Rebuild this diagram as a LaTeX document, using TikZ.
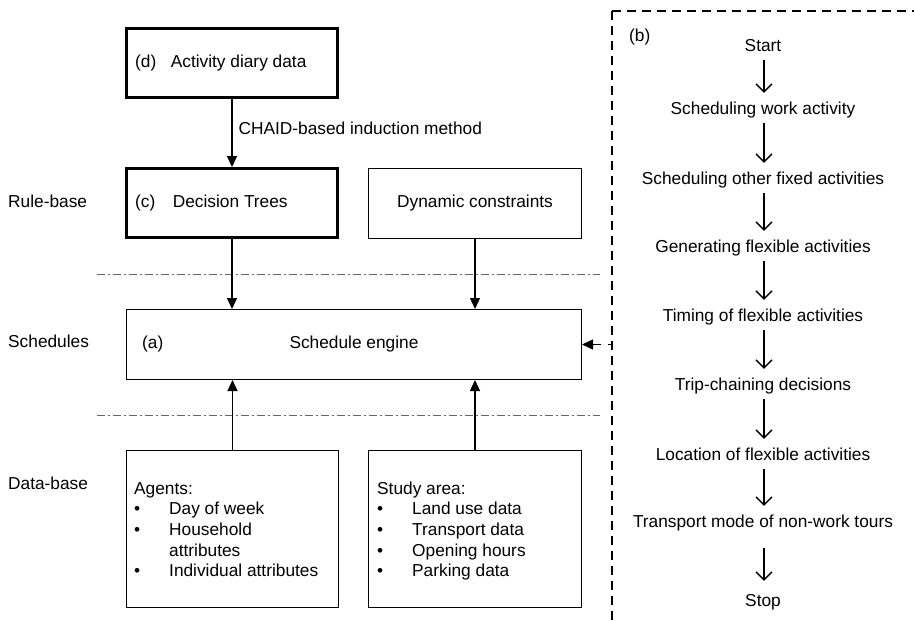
\documentclass[tikz,border=0pt]{standalone}
\usepackage{fontspec}
\setmainfont{Liberation Sans}
\usetikzlibrary{arrows.meta}
\begin{document}
\begin{tikzpicture}[x=1pt,y=1pt,
  every node/.style={font=\fontsize{17.3}{20.7}\selectfont},
  box/.style={draw, line width=1.3pt, inner sep=0pt},
  thickbox/.style={draw, line width=3.3pt, inner sep=0pt},
  lbl/.style={inner sep=2pt, text height=12.5pt, text depth=3.5pt},
  arr/.style={-{Triangle[length=11pt,width=10pt]}, line width=1.3pt},
  flow/.style={-{Straight Barb[length=8pt,width=16pt,line width=1.3pt]}, line width=1.3pt, shorten <=3pt, shorten >=7pt},
  sep/.style={draw=black!60, line width=1pt, dash pattern=on 8pt off 3pt on 2pt off 3pt},
  frame/.style={line width=1.3pt, dash pattern=on 9pt off 6pt},
  dasharr/.style={-{Triangle[length=11pt,width=10pt]}, line width=1.3pt, dash pattern=on 4pt off 7pt on 12pt off 4pt}
]
\path[use as bounding box, fill=white] (0,0) rectangle (914,-621);

% left column boxes
\node[thickbox, minimum width=210.7pt, minimum height=68.7pt] (d) at (232,-63) {};
\node[thickbox, minimum width=210.7pt, minimum height=68.7pt] (c) at (232,-203) {};
\node[box, minimum width=212.7pt, minimum height=69.7pt] (dyn) at (475,-203.5) {};
\node[box, minimum width=454.7pt, minimum height=69.7pt] (eng) at (354,-344.5) {};
\node[box, minimum width=211.7pt, minimum height=156.7pt] (ag) at (232.5,-529) {};
\node[box, minimum width=212.7pt, minimum height=156.7pt] (st) at (475,-529) {};

% box texts
\node[lbl, anchor=west] (dtxt) at (133,-63) {(d)\hspace{14.5pt}Activity diary data};
\node[lbl, anchor=west] (ctxt) at (133,-203) {(c)\hspace{17.5pt}Decision Trees};
\node[lbl] (dyntxt) at (475,-203) {Dynamic constraints};
\node[lbl, anchor=west] (atxt) at (140,-344) {(a)};
\node[lbl] (engtxt) at (354,-344) {Schedule engine};
\node[anchor=base west, align=left, inner sep=0pt] (agtxt) at (134,-576.8)
  {Agents:\\
   \makebox[35pt][l]{\textbullet}Day of week\\
   \makebox[35pt][l]{\textbullet}Household\\
   \hspace*{35pt}attributes\\
   \makebox[35pt][l]{\textbullet}Individual attributes};
\node[anchor=base west, align=left, inner sep=0pt] (sttxt) at (377,-576.8)
  {Study area:\\
   \makebox[35pt][l]{\textbullet}Land use data\\
   \makebox[35pt][l]{\textbullet}Transport data\\
   \makebox[35pt][l]{\textbullet}Opening hours\\
   \makebox[35pt][l]{\textbullet}Parking data};

% row labels
\node[lbl, anchor=west] (rb) at (6,-203) {Rule-base};
\node[lbl, anchor=west] (sc) at (6,-343) {Schedules};
\node[lbl, anchor=west] (db) at (6,-485) {Data-base};

% separators
\draw[sep] (97,-274) -- (600,-274);
\draw[sep] (97,-415) -- (600,-415);

% arrows left column
\draw[arr] (d.south) -- node[lbl, anchor=west, pos=0.45, xshift=4pt] (chaid) {CHAID-based induction method} (c.north);
\draw[arr] (c.south) -- (c.south |- eng.north);
\draw[arr] (dyn.south) -- (dyn.south |- eng.north);
\draw[arr] (ag.north) -- (ag.north |- eng.south);
\draw[arr] (st.north) -- (st.north |- eng.south);

% dashed frame (b)
\coordinate (ftl) at (612,-11);
\draw[frame] (ftl) -- (914,-11);
\draw[frame] (ftl) -- (612,-621);
\coordinate (bin) at (612,-344.5);
\draw[dasharr] (bin) -- (eng.east);
\node[lbl, anchor=west] (blab) at (627,-37) {(b)};

% flow chart
\node[lbl] (f0) at (763,-47) {Start};
\node[lbl] (f1) at (763,-110) {Scheduling work activity};
\node[lbl] (f2) at (763,-180) {Scheduling other fixed activities};
\node[lbl] (f3) at (763,-248) {Generating flexible activities};
\node[lbl] (f4) at (763,-317) {Timing of flexible activities};
\node[lbl] (f5) at (763,-386) {Trip-chaining decisions};
\node[lbl] (f6) at (763,-456) {Location of flexible activities};
\node[lbl] (f7) at (763,-523) {Transport mode of non-work tours};
\node[lbl] (f8) at (763,-602) {Stop};
\foreach \a/\b in {f0/f1,f1/f2,f2/f3,f3/f4,f4/f5,f5/f6,f6/f7}
  \draw[flow] ([xshift=1pt]\a.south) -- ([xshift=1pt]\b.north);
\draw[flow, shorten <=15pt, shorten >=11pt] ([xshift=1pt]f7.south) -- ([xshift=1pt]f8.north);
\end{tikzpicture}
\end{document}
